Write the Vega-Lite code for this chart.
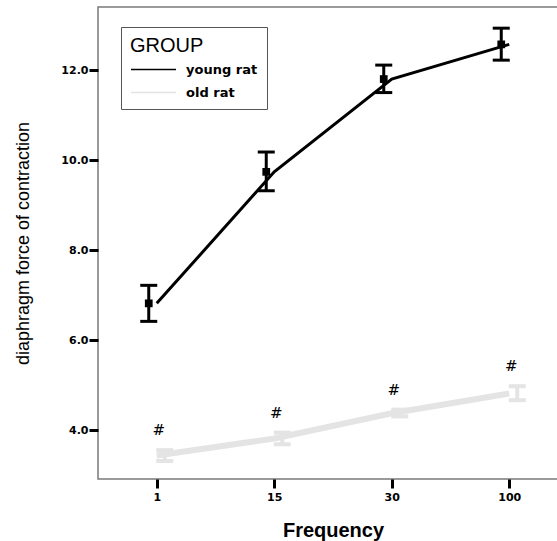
{
  "$schema": "https://vega.github.io/schema/vega-lite/v6.json",
  "width": 470,
  "height": 472,
  "autosize": {"type": "none"},
  "padding": {"left": 98, "top": 7, "right": 0, "bottom": 62},
  "background": "white",
  "config": {
    "font": "Liberation Sans",
    "view": {"stroke": "#7a7a7a", "strokeWidth": 1.5},
    "axis": {"grid": false, "domain": false, "tickColor": "black", "tickWidth": 3, "tickSize": 9,
      "labelFont": "DejaVu Sans", "labelFontWeight": "bold", "labelFontSize": 11, "labelColor": "black",
      "titleFont": "Liberation Sans", "titleColor": "black"}
  },
  "data": {"values": [
    {"group": "young rat", "freq": "1", "mean": 6.82, "low": 6.42, "high": 7.22, "sig": ""},
    {"group": "young rat", "freq": "15", "mean": 9.74, "low": 9.32, "high": 10.18, "sig": ""},
    {"group": "young rat", "freq": "30", "mean": 11.8, "low": 11.5, "high": 12.11, "sig": ""},
    {"group": "young rat", "freq": "100", "mean": 12.57, "low": 12.22, "high": 12.93, "sig": ""},
    {"group": "old rat", "freq": "1", "mean": 3.44, "low": 3.32, "high": 3.56, "sig": "#"},
    {"group": "old rat", "freq": "15", "mean": 3.82, "low": 3.69, "high": 3.95, "sig": "#"},
    {"group": "old rat", "freq": "30", "mean": 4.38, "low": 4.31, "high": 4.46, "sig": "#"},
    {"group": "old rat", "freq": "100", "mean": 4.82, "low": 4.67, "high": 4.98, "sig": "#"}
  ]},
  "encoding": {
    "x": {"field": "freq", "type": "ordinal", "sort": ["1", "15", "30", "100"],
      "scale": {"type": "point", "padding": 0.5},
      "axis": {"title": "Frequency", "labelAngle": 0, "labelPadding": 3, "titlePadding": 18,
        "titleFontSize": 20, "titleFontWeight": "bold"}}
  },
  "layer": [
    {
      "transform": [{"filter": "datum.group == 'old rat'"}],
      "mark": {"type": "line", "strokeWidth": 6},
      "encoding": {
        "y": {"field": "mean", "type": "quantitative"},
        "color": {"field": "group", "type": "nominal"}
      }
    },
    {
      "transform": [{"filter": "datum.group == 'young rat'"}],
      "mark": {"type": "line", "strokeWidth": 3},
      "encoding": {
        "y": {"field": "mean", "type": "quantitative",
          "scale": {"domain": [2.92, 13.4], "nice": false, "zero": false},
          "axis": {"title": "diaphragm force of contraction", "values": [4, 6, 8, 10, 12], "format": ".1f",
            "labelPadding": 1, "titlePadding": 28, "titleFontSize": 18, "titleFontWeight": "normal"}},
        "color": {"field": "group", "type": "nominal",
          "scale": {"domain": ["young rat", "old rat"], "range": ["black", "#e4e4e4"]},
          "legend": {"title": "GROUP", "orient": "none", "legendX": 23, "legendY": 20,
            "symbolType": "M-1,0H5", "symbolSize": 225, "symbolStrokeWidth": 1.5,
            "titleFont": "Liberation Sans", "titleFontSize": 20, "titleFontWeight": "normal", "titleColor": "black", "titlePadding": 5,
            "labelFont": "DejaVu Sans", "labelFontSize": 13, "labelFontWeight": "bold", "labelColor": "black", "labelOffset": 39,
            "rowPadding": 7, "padding": 9, "strokeColor": "#555", "fillColor": "white"}}
      }
    },
    {
      "transform": [{"filter": "datum.group == 'young rat'"}],
      "mark": {"type": "rule", "strokeWidth": 3, "color": "black", "xOffset": -8},
      "encoding": {"y": {"field": "low", "type": "quantitative"}, "y2": {"field": "high"}}
    },
    {
      "transform": [{"filter": "datum.group == 'young rat'"}],
      "mark": {"type": "tick", "thickness": 3, "size": 17, "color": "black", "xOffset": -8, "opacity": 1},
      "encoding": {"y": {"field": "low", "type": "quantitative"}}
    },
    {
      "transform": [{"filter": "datum.group == 'young rat'"}],
      "mark": {"type": "tick", "thickness": 3, "size": 17, "color": "black", "xOffset": -8, "opacity": 1},
      "encoding": {"y": {"field": "high", "type": "quantitative"}}
    },
    {
      "transform": [{"filter": "datum.group == 'young rat'"}],
      "mark": {"type": "square", "size": 60, "color": "black", "filled": true, "opacity": 1, "xOffset": -8},
      "encoding": {"y": {"field": "mean", "type": "quantitative"}}
    },
    {
      "transform": [{"filter": "datum.group == 'old rat'"}],
      "mark": {"type": "rule", "strokeWidth": 4, "color": "#e4e4e4", "xOffset": 8},
      "encoding": {"y": {"field": "low", "type": "quantitative"}, "y2": {"field": "high"}}
    },
    {
      "transform": [{"filter": "datum.group == 'old rat'"}],
      "mark": {"type": "tick", "thickness": 4, "size": 17, "color": "#e4e4e4", "xOffset": 8, "opacity": 1},
      "encoding": {"y": {"field": "low", "type": "quantitative"}}
    },
    {
      "transform": [{"filter": "datum.group == 'old rat'"}],
      "mark": {"type": "tick", "thickness": 4, "size": 17, "color": "#e4e4e4", "xOffset": 8, "opacity": 1},
      "encoding": {"y": {"field": "high", "type": "quantitative"}}
    },
    {
      "transform": [{"filter": "datum.sig != ''"}],
      "mark": {"type": "text", "font": "DejaVu Serif", "fontSize": 15, "color": "black", "baseline": "middle", "dy": -20, "dx": 2},
      "encoding": {"y": {"field": "high", "type": "quantitative"}, "text": {"field": "sig"}}
    }
  ]
}
